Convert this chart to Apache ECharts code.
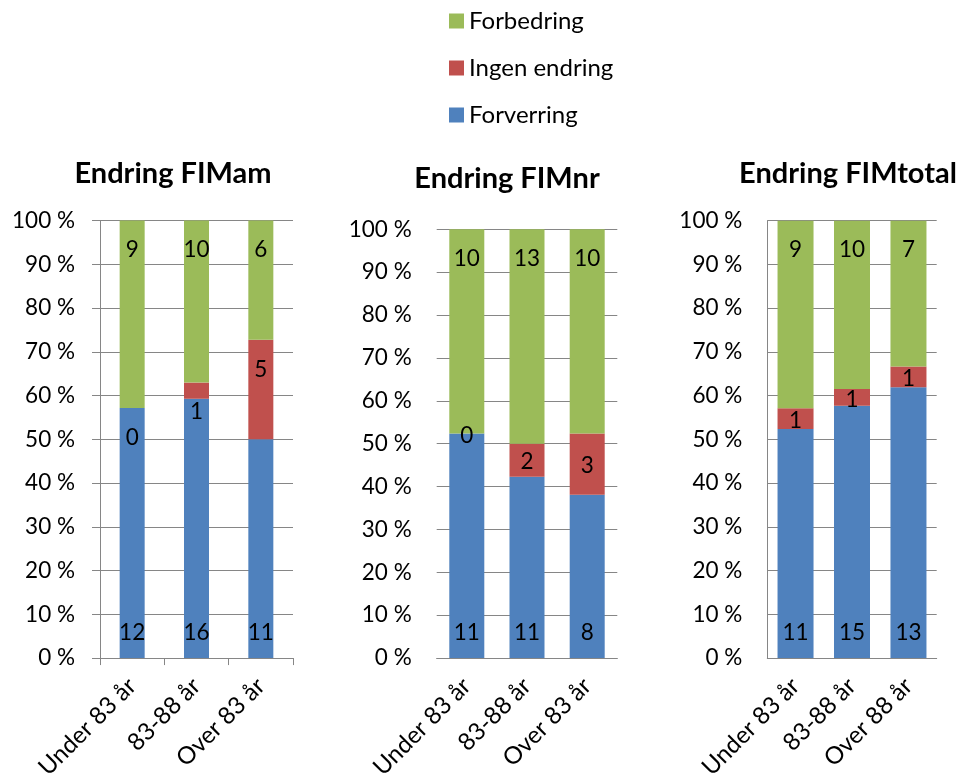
<!DOCTYPE html>
<html>
<head>
<meta charset="utf-8">
<script src="https://cdn.jsdelivr.net/npm/echarts@6/dist/echarts.min.js"></script>
<style>
  html, body { margin: 0; padding: 0; background: #fff; }
  #chart { width: 960px; height: 782px; }
</style>
</head>
<body>
<div id="chart"></div>
<script>
// Age groups on the category axes
const ageGroupsA = ['Under 83 år', '83-88 år', 'Over 83 år'];
const ageGroupsB = ['Under 83 år', '83-88 år', 'Over 88 år'];

// Counts per age group (Forverring / Ingen endring / Forbedring)
const fimamForverring = [12, 16, 11];
const fimamIngen = [0, 1, 5];
const fimamForbedring = [9, 10, 6];

const fimnrForverring = [11, 11, 8];
const fimnrIngen = [0, 2, 3];
const fimnrForbedring = [10, 13, 10];

const fimtotalForverring = [11, 15, 13];
const fimtotalIngen = [1, 1, 1];
const fimtotalForbedring = [9, 10, 7];

const panelTitles = ['Endring FIMam', 'Endring FIMnr', 'Endring FIMtotal'];
const seriesNames = ['Forverring', 'Ingen endring', 'Forbedring'];
const yTicks = [0, 10, 20, 30, 40, 50, 60, 70, 80, 90, 100];

const COLORS = { 'Forverring': '#4F81BD', 'Ingen endring': '#C0504D', 'Forbedring': '#9BBB59' };
const FONT = 'Lato, "Liberation Sans", sans-serif';
const GRID_COLOR = '#868686';
const LABEL_SIZE = 22.5;

const panels = [
  { title: panelTitles[0], cats: ageGroupsA,
    counts: [fimamForverring, fimamIngen, fimamForbedring],
    grid: { left: 100, top: 220.5, width: 193, height: 438 },
    titleX: 168, titleTop: 154, barWidth: 25,
    yLine: true, yTick: true, xTick: true, midTop: true },
  { title: panelTitles[1], cats: ageGroupsA,
    counts: [fimnrForverring, fimnrIngen, fimnrForbedring],
    grid: { left: 436.7, top: 229.3, width: 180.6, height: 429 },
    titleX: 502, titleTop: 159, barWidth: 35,
    yLine: false, yTick: false, xTick: false, midTop: false },
  { title: panelTitles[2], cats: ageGroupsB,
    counts: [fimtotalForverring, fimtotalIngen, fimtotalForbedring],
    grid: { left: 767.3, top: 220.7, width: 169.4, height: 437.6 },
    titleX: 843, titleTop: 154, barWidth: 36,
    yLine: true, yTick: false, xTick: false, midTop: false }
];

const titles = [], grids = [], xAxes = [], yAxes = [], series = [];

panels.forEach((p, k) => {
  titles.push({
    text: p.title, left: p.titleX, top: p.titleTop, textAlign: 'center',
    textStyle: { fontFamily: FONT, fontSize: 29, fontWeight: 'bold', color: '#000' }
  });
  grids.push(Object.assign({ containLabel: false }, p.grid));
  xAxes.push({
    type: 'category', gridIndex: k, data: p.cats,
    axisLine: { show: true, lineStyle: { color: GRID_COLOR, width: 1 } },
    axisTick: { show: p.xTick, length: 7, interval: 0, lineStyle: { color: GRID_COLOR } },
    axisLabel: { interval: 0, rotate: 45, margin: 24, fontFamily: FONT, fontSize: 24, color: '#000' },
    splitLine: { show: false }
  });
  yAxes.push({
    type: 'value', gridIndex: k, min: 0, max: 100, interval: 10,
    axisLine: { show: p.yLine, lineStyle: { color: GRID_COLOR, width: 1 } },
    axisTick: { show: p.yTick, length: 8, lineStyle: { color: GRID_COLOR } },
    axisLabel: { margin: 25, fontFamily: FONT, fontSize: LABEL_SIZE, color: '#000',
      formatter: v => yTicks.includes(v) ? v + ' %' : '' },
    splitLine: { show: true, lineStyle: { color: GRID_COLOR, width: 1 } }
  });

  const totals = p.cats.map((_, i) => p.counts[0][i] + p.counts[1][i] + p.counts[2][i]);
  p.counts.forEach((arr, s) => {
    const name = seriesNames[s];
    let label;
    if (s === 0) {
      label = { position: 'insideBottom', distance: 14 };
    } else if (s === 2) {
      label = { position: 'insideTop', distance: 18 };
    } else if (p.midTop) {
      label = { position: 'insideTop', distance: 18 };
    } else {
      label = { position: 'inside', offset: [0, 2] };
    }
    series.push({
      name: name, type: 'bar', stack: 'p' + k,
      xAxisIndex: k, yAxisIndex: k,
      barWidth: p.barWidth,
      itemStyle: { color: COLORS[name] },
      label: Object.assign({
        show: true, fontFamily: FONT, fontSize: LABEL_SIZE, color: '#000',
        formatter: prm => String(arr[prm.dataIndex])
      }, label),
      emphasis: { disabled: true },
      data: arr.map((c, i) => c / totals[i] * 100)
    });
  });
});

const chart = echarts.init(document.getElementById('chart'), null, { renderer: 'canvas' });
chart.setOption({
  animation: false,
  backgroundColor: '#fff',
  title: titles,
  legend: {
    orient: 'vertical', left: 444, top: 4, itemGap: 23,
    itemWidth: 15, itemHeight: 15, icon: 'rect',
    data: ['Forbedring', 'Ingen endring', 'Forverring'],
    textStyle: { fontFamily: FONT, fontSize: 24, color: '#000' }
  },
  grid: grids,
  xAxis: xAxes,
  yAxis: yAxes,
  series: series
});
</script>
</body>
</html>
